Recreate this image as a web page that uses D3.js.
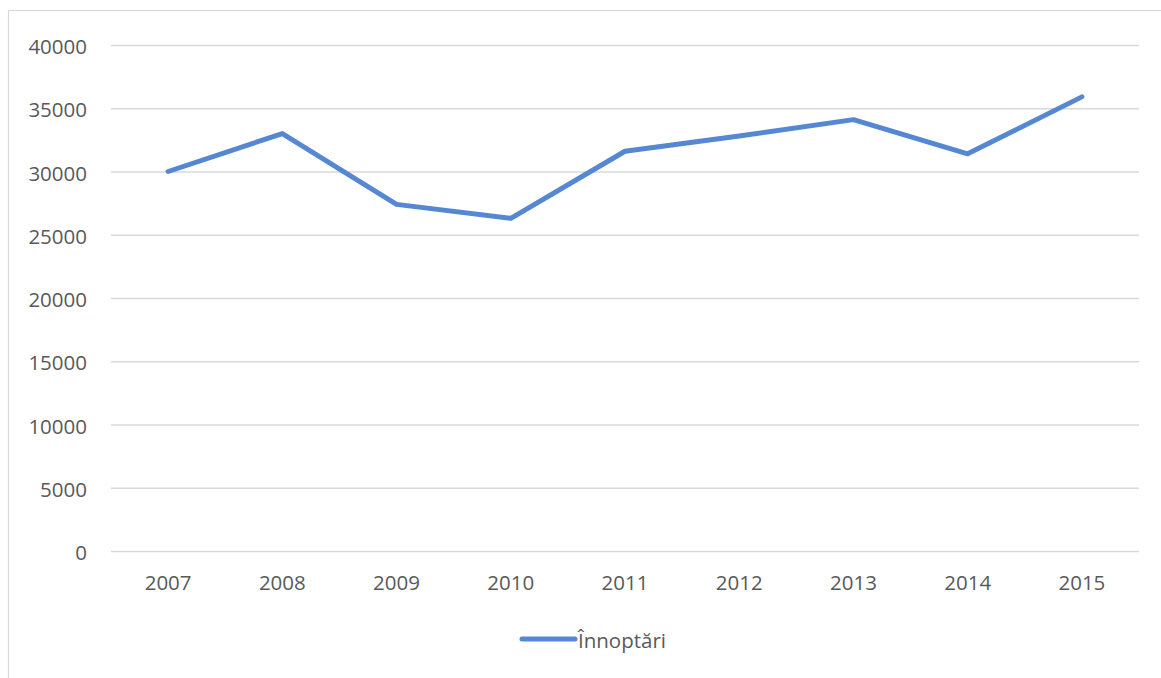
<!DOCTYPE html>
<html><head><meta charset="utf-8">
<script src="https://cdn.jsdelivr.net/npm/d3@7"></script>
<style>html,body{margin:0;padding:0;background:#fff;overflow:hidden}</style>
</head><body>
<script>
const years = ["2007","2008","2009","2010","2011","2012","2013","2014","2015"];
const values = [30000,33000,27400,26300,31600,32800,34100,31400,35900];
const yTicks = [0,5000,10000,15000,20000,25000,30000,35000,40000];
const seriesName = "Înnoptări";

const W = 1161, H = 678;
const svg = d3.select("body").append("svg").attr("width", W).attr("height", H);
const font = "'Open Sans', sans-serif";

svg.append("rect").attr("x", 8.5).attr("y", 10.5).attr("width", W + 20).attr("height", H + 20)
  .attr("fill", "#fff").attr("stroke", "#d9d9d9").attr("stroke-width", 1.2);

const x = d3.scaleBand().domain(years).range([111, 1139]);
const y = d3.scaleLinear().domain([0, 40000]).range([551, 45]);

const yAxis = svg.append("g").attr("transform", "translate(111,0)")
  .call(d3.axisLeft(y).tickValues(yTicks).tickSize(-1028).tickPadding(24).tickFormat(d3.format("d")));
yAxis.select(".domain").remove();
yAxis.selectAll("line").attr("stroke", "#d9d9d9").attr("stroke-width", 1.3);
yAxis.selectAll("text").attr("fill", "#595959").attr("dy", "0.42em").style("font-family", font).style("font-size", "20.5px");

const xAxis = svg.append("g").attr("transform", "translate(0,551)")
  .call(d3.axisBottom(x).tickSize(0).tickPadding(24));
xAxis.select(".domain").remove();
xAxis.selectAll("text").attr("fill", "#595959").style("font-family", font).style("font-size", "20.5px");

const line = d3.line().x((d, i) => x(years[i]) + x.bandwidth() / 2).y(d => y(d));
svg.append("path").datum(values).attr("d", line).attr("fill", "none")
  .attr("stroke", "#5587d3").attr("stroke-width", 5).attr("stroke-linejoin", "round").attr("stroke-linecap", "round");

const lg = svg.append("g");
lg.append("line").attr("x1", 522).attr("x2", 575).attr("y1", 639).attr("y2", 639)
  .attr("stroke", "#5587d3").attr("stroke-width", 5).attr("stroke-linecap", "round");
lg.append("text").attr("x", 578).attr("y", 641).attr("dy", "0.35em").text(seriesName)
  .attr("fill", "#595959").style("font-family", font).style("font-size", "20.5px");
</script>
</body></html>
